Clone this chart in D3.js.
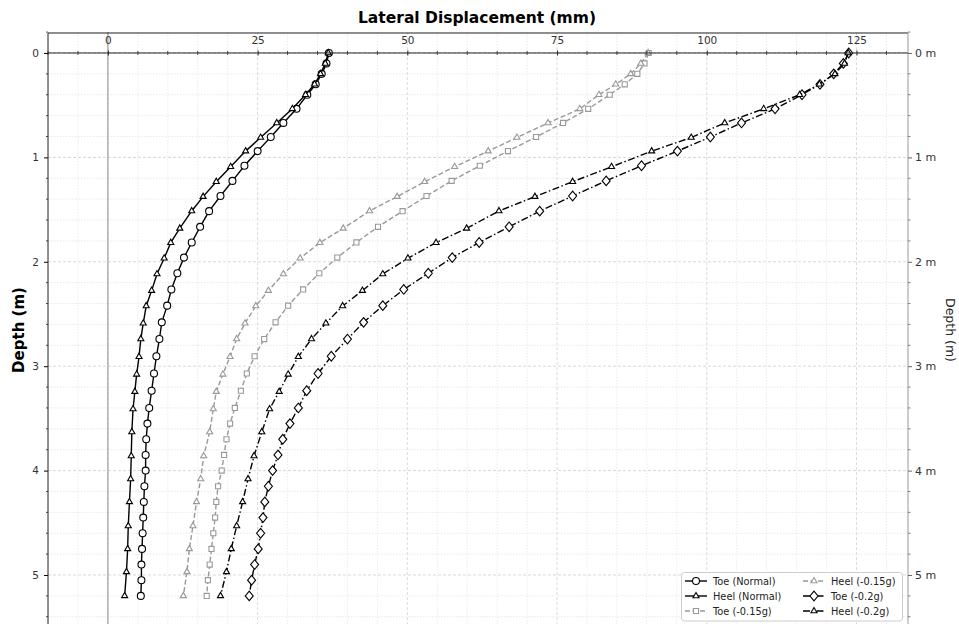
<!DOCTYPE html>
<html>
<head>
<meta charset="utf-8">
<script src="https://cdn.jsdelivr.net/npm/d3@7"></script>
<style>
  html, body { margin: 0; padding: 0; background: #fff; }
  svg { display: block; font-family: "DejaVu Sans", sans-serif; }
</style>
</head>
<body>
<svg id="chart" width="959" height="624"></svg>
<script>
// Depth stations (m) for toe and heel profiles
const toeDepth = [0, 0.1, 0.2, 0.3, 0.4, 0.535, 0.67, 0.805, 0.94, 1.08, 1.225, 1.37, 1.515, 1.665,
  1.815, 1.96, 2.11, 2.265, 2.42, 2.58, 2.74, 2.905, 3.07, 3.235, 3.4, 3.55, 3.7, 3.85, 4.0, 4.15,
  4.3, 4.45, 4.6, 4.75, 4.9, 5.05, 5.2];
const heelDepth = [0, 0.1, 0.2, 0.3, 0.4, 0.535, 0.67, 0.81, 0.94, 1.09, 1.233, 1.376, 1.513, 1.68,
  1.817, 1.966, 2.117, 2.276, 2.423, 2.589, 2.739, 2.909, 3.078, 3.244, 3.41, 3.63, 3.86, 4.08,
  4.3, 4.53, 4.75, 4.97, 5.2];

// Lateral displacement (mm)
const toeNormal = [36.9, 36.5, 35.7, 34.7, 33.3, 31.5, 29.3, 27.2, 25.0, 22.8, 20.8, 18.8, 16.9, 15.4,
  14.0, 12.7, 11.6, 10.6, 9.9, 9.0, 8.6, 8.1, 7.7, 7.3, 6.9, 6.6, 6.4, 6.3, 6.3, 6.1,
  6.0, 5.9, 5.8, 5.7, 5.6, 5.6, 5.5];
const heelNormal = [36.8, 36.3, 35.5, 34.5, 33.0, 30.8, 28.2, 25.5, 23.0, 20.5, 18.1, 15.9, 14.0, 12.0,
  10.5, 9.4, 8.2, 7.3, 6.4, 5.9, 5.5, 5.2, 4.8, 4.5, 4.2, 4.0, 3.9, 3.8,
  3.6, 3.4, 3.3, 3.1, 2.8];
const toe015 = [90.3, 89.6, 88.4, 86.3, 83.8, 80.2, 76.0, 71.5, 66.8, 62.1, 57.4, 53.2, 49.2, 45.1,
  41.5, 38.3, 35.3, 32.6, 30.1, 28.0, 26.1, 24.5, 23.2, 22.2, 21.2, 20.4, 19.8, 19.4, 19.0, 18.4,
  18.1, 17.9, 17.6, 17.3, 17.0, 16.7, 16.5];
const heel015 = [90.2, 89.0, 87.3, 84.8, 82.0, 78.8, 73.5, 68.3, 63.5, 57.9, 52.9, 48.3, 43.7, 39.3,
  35.4, 32.1, 29.3, 26.8, 24.7, 22.9, 21.5, 20.4, 19.2, 18.1, 17.6, 17.0, 16.0, 15.5,
  14.8, 14.2, 13.6, 13.2, 12.6];
const toe02 = [123.7, 122.8, 121.2, 118.9, 115.9, 111.4, 105.8, 100.6, 95.1, 89.1, 83.2, 77.6, 72.1, 67.0,
  62.0, 57.5, 53.5, 49.4, 45.9, 42.7, 40.0, 37.3, 35.1, 33.2, 31.8, 30.4, 29.2, 28.4, 27.5, 26.8,
  26.2, 25.9, 25.5, 25.1, 24.5, 24.0, 23.6];
const heel02 = [123.6, 123.0, 121.4, 118.8, 115.5, 109.5, 103.0, 97.4, 90.8, 84.1, 77.6, 71.3, 65.3, 59.9,
  54.8, 50.1, 45.9, 42.5, 39.2, 36.4, 34.0, 31.8, 30.1, 28.6, 27.0, 25.7, 24.4, 23.4,
  22.5, 21.5, 20.6, 19.8, 18.8];

const seriesNames = ["Toe (Normal)", "Heel (Normal)", "Toe (-0.15g)", "Heel (-0.15g)", "Toe (-0.2g)", "Heel (-0.2g)"];
const xTicks = [0, 25, 50, 75, 100, 125];
const yTicks = [0, 1, 2, 3, 4, 5];

const series = [
  { name: seriesNames[0], depth: toeDepth,  values: toeNormal,  color: "#000", dash: null,          marker: "circle" },
  { name: seriesNames[1], depth: heelDepth, values: heelNormal, color: "#000", dash: null,          marker: "triangle" },
  { name: seriesNames[2], depth: toeDepth,  values: toe015,     color: "#999", dash: "5,2.5",       marker: "square" },
  { name: seriesNames[3], depth: heelDepth, values: heel015,    color: "#999", dash: "5,2.5",       marker: "triangle" },
  { name: seriesNames[4], depth: toeDepth,  values: toe02,      color: "#000", dash: "7,2.5,1.5,2.5", marker: "diamond" },
  { name: seriesNames[5], depth: heelDepth, values: heel02,     color: "#000", dash: "7,2.5,1.5,2.5", marker: "triangle" }
];

const svg = d3.select("#chart");
const L = 48, R = 908, T = 32.1, B = 627.2;

const x = d3.scaleLinear().domain([-10, 133.6]).range([L, R]);
const y = d3.scaleLinear().domain([-0.2, 5.5]).range([T, B]);

svg.append("defs").append("clipPath").attr("id", "plotclip")
  .append("rect").attr("x", L).attr("y", T).attr("width", R - L).attr("height", B - T);

const plot = svg.append("g").attr("clip-path", "url(#plotclip)");

// grid: minor every 5 mm / 0.2 m, major every 25 mm / 1 m
const xMinor = d3.range(-10, 134, 5).filter(v => v % 25 !== 0);
const yMinor = d3.range(-0.2, 5.6, 0.2).map(v => +v.toFixed(1)).filter(v => Math.abs(v - Math.round(v)) > 1e-6);
plot.selectAll(".gxm").data(xMinor).join("line")
  .attr("x1", d => x(d)).attr("x2", d => x(d)).attr("y1", T).attr("y2", B)
  .attr("stroke", "#e4e4e4").attr("stroke-width", 0.8).attr("stroke-dasharray", "1.5,1.5");
plot.selectAll(".gym").data(yMinor).join("line")
  .attr("x1", L).attr("x2", R).attr("y1", d => y(d)).attr("y2", d => y(d))
  .attr("stroke", "#e2e2e2").attr("stroke-width", 0.8).attr("stroke-dasharray", "1.5,1.5");
plot.selectAll(".gxM").data(xTicks).join("line")
  .attr("x1", d => x(d)).attr("x2", d => x(d)).attr("y1", T).attr("y2", B)
  .attr("stroke", "#d6d6d6").attr("stroke-width", 0.9).attr("stroke-dasharray", "3,2");
plot.selectAll(".gyM").data(yTicks).join("line")
  .attr("x1", L).attr("x2", R).attr("y1", d => y(d)).attr("y2", d => y(d))
  .attr("stroke", "#d4d4d4").attr("stroke-width", 0.9).attr("stroke-dasharray", "3,2");

// zero-displacement reference line
plot.append("line").attr("x1", x(0)).attr("x2", x(0)).attr("y1", T).attr("y2", B)
  .attr("stroke", "#aaa").attr("stroke-width", 1.4);

// profiles
const line = d3.line().x(d => x(d[1])).y(d => y(d[0]));
function markerPath(type) {
  if (type === "circle") return d3.symbol(d3.symbolCircle, 38)();
  if (type === "square") return d3.symbol(d3.symbolSquare, 26)();
  if (type === "diamond") return "M0,-4.8L4,0L0,4.8L-4,0Z";
  return d3.symbol(d3.symbolTriangle, 16)();
}
series.forEach(s => {
  const pts = s.depth.map((d, i) => [d, s.values[i]]);
  plot.append("path").datum(pts).attr("d", line)
    .attr("fill", "none").attr("stroke", s.color).attr("stroke-width", 1.4)
    .attr("stroke-dasharray", s.dash);
  plot.selectAll(null).data(pts).join("path")
    .attr("transform", d => `translate(${x(d[1])},${y(d[0])})`)
    .attr("d", markerPath(s.marker))
    .attr("fill", "#fff").attr("stroke", s.color).attr("stroke-width", 1.1);
});

// frame
svg.append("line").attr("x1", L).attr("x2", R).attr("y1", 33).attr("y2", 33).attr("stroke", "#222").attr("stroke-width", 1);
svg.append("line").attr("x1", R).attr("x2", R).attr("y1", 33).attr("y2", 624).attr("stroke", "#999").attr("stroke-width", 1);

// x axis drawn along depth 0 with labels above
const xAxis = svg.append("g").attr("transform", `translate(0,${y(0)})`)
  .call(d3.axisTop(x).tickValues(xTicks).tickSize(2.5).tickPadding(6));
xAxis.select(".domain").remove();
xAxis.append("line").attr("x1", L).attr("x2", R).attr("stroke", "#222").attr("stroke-width", 1);
xAxis.selectAll(".tick text").attr("font-size", 10.5).attr("fill", "#333").attr("font-family", "DejaVu Sans");
xAxis.selectAll(".tick line").attr("stroke", "#222").attr("y2", 2.5).attr("y1", -2.5);
xAxis.selectAll(".xmin").data(xMinor).join("line")
  .attr("x1", d => x(d)).attr("x2", d => x(d)).attr("y1", -2).attr("y2", 2)
  .attr("stroke", "#222").attr("stroke-width", 0.8);

// left depth axis
const yAxisL = svg.append("g").attr("transform", `translate(${L},0)`)
  .call(d3.axisLeft(y).tickValues(yTicks).tickFormat(d3.format("d")).tickSize(4).tickPadding(5));
yAxisL.select(".domain").remove();
yAxisL.append("line").attr("y1", 33).attr("y2", 624).attr("stroke", "#222");
yAxisL.selectAll(".tick text").attr("font-size", 10.5).attr("fill", "#333").attr("font-family", "DejaVu Sans");
yAxisL.selectAll(".ymin").data(yMinor).join("line")
  .attr("x1", -2).attr("x2", 0).attr("y1", d => y(d)).attr("y2", d => y(d)).attr("stroke", "#222").attr("stroke-width", 0.8);

// right depth axis
const yAxisR = svg.append("g").attr("transform", `translate(${R},0)`)
  .call(d3.axisRight(y).tickValues(yTicks).tickFormat(d => d + " m").tickSize(4).tickPadding(3));
yAxisR.select(".domain").remove();
yAxisR.selectAll(".tick text").attr("font-size", 11).attr("fill", "#333").attr("font-family", "DejaVu Sans");
yAxisR.selectAll(".tick line").attr("stroke", "#666");
yAxisR.selectAll(".ymin").data(yMinor).join("line")
  .attr("x1", 0).attr("x2", 2.5).attr("y1", d => y(d)).attr("y2", d => y(d)).attr("stroke", "#666").attr("stroke-width", 0.8);

// titles
svg.append("text").attr("x", 477).attr("y", 23).attr("text-anchor", "middle")
  .attr("font-size", 15.5).attr("font-weight", "bold").text("Lateral Displacement (mm)");
svg.append("text").attr("transform", "translate(24,330) rotate(-90)").attr("text-anchor", "middle")
  .attr("font-size", 15).attr("font-weight", "bold").text("Depth (m)");
svg.append("text").attr("transform", "translate(946,330) rotate(90)").attr("text-anchor", "middle")
  .attr("font-size", 12.5).attr("fill", "#222").text("Depth (m)");

// legend
const leg = svg.append("g");
leg.append("rect").attr("x", 681.5).attr("y", 572.5).attr("width", 221).attr("height", 48.5)
  .attr("rx", 3).attr("fill", "#fff").attr("fill-opacity", 0.85).attr("stroke", "#ccc");
series.forEach((s, k) => {
  const col = Math.floor(k / 3), row = k % 3;
  const lx = col === 0 ? 685 : 803, ly = 581 + row * 15;
  const g = leg.append("g");
  g.append("line").attr("x1", lx).attr("x2", lx + 22).attr("y1", ly).attr("y2", ly)
    .attr("stroke", s.color).attr("stroke-width", 1.4).attr("stroke-dasharray", s.dash);
  g.append("path").attr("transform", `translate(${lx + 11},${ly})`).attr("d", markerPath(s.marker))
    .attr("fill", "#fff").attr("stroke", s.color).attr("stroke-width", 1.1);
  g.append("text").attr("x", lx + 28).attr("y", ly + 3.5).attr("font-size", 9.8).attr("fill", "#222").text(s.name);
});
</script>
</body>
</html>
